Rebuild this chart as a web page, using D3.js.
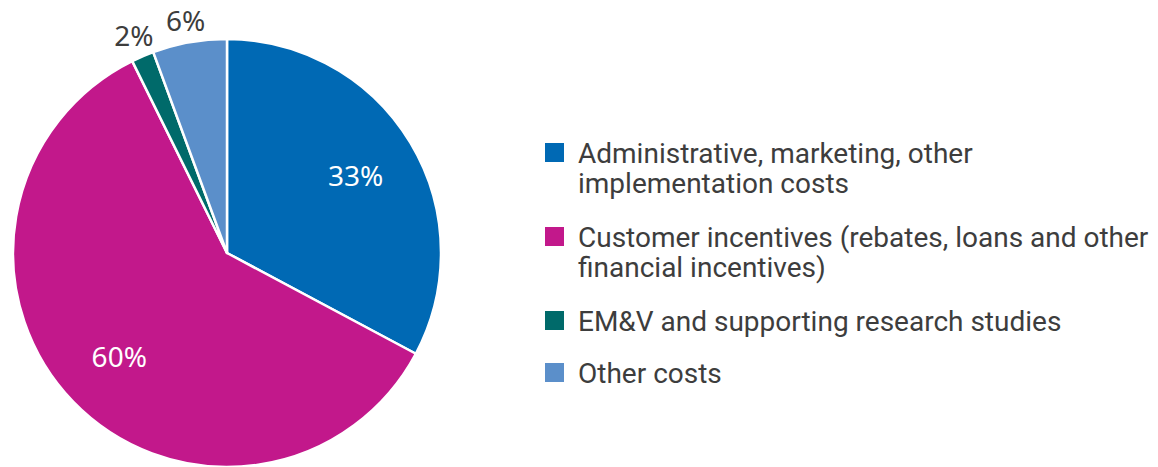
<!DOCTYPE html>
<html>
<head>
<meta charset="utf-8">
<script src="https://cdn.jsdelivr.net/npm/d3@7"></script>
<style>
  body { margin: 0; background: #fff; }
  svg { display: block; }
</style>
</head>
<body>
<div id="chart"></div>
<script>
// data
var categories = [
    "Administrative, marketing, other implementation costs",
    "Customer incentives (rebates, loans and other financial incentives)",
    "EM&V and supporting research studies",
    "Other costs"
];
var legendLines = [
    ["Administrative, marketing, other", "implementation costs"],
    ["Customer incentives (rebates, loans and other", "financial incentives)"],
    ["EM&V and supporting research studies"],
    ["Other costs"]
];
var shares = [32.8, 59.9, 1.7, 5.6];
var labels = ["33%", "60%", "2%", "6%"];
var colors = ["#0069b4", "#c2188b", "#006a6a", "#5b8fca"];

var width = 1158, height = 467;
var cx = 227, cy = 253, radius = 214;

var svg = d3.select("#chart").append("svg")
    .attr("width", width)
    .attr("height", height);

var data = categories.map(function(c, i) {
    return {name: c, value: shares[i], label: labels[i], color: colors[i]};
});

var pie = d3.pie().sort(null).value(function(d) { return d.value; });
var arcs = pie(data);

var arc = d3.arc().innerRadius(0).outerRadius(radius);
var inLabel = d3.arc().innerRadius(150).outerRadius(150);
var outLabel = d3.arc().innerRadius(236).outerRadius(236);

var g = svg.append("g").attr("transform", "translate(" + cx + "," + cy + ")");

g.selectAll("path.slice")
    .data(arcs)
    .enter().append("path")
    .attr("class", "slice")
    .attr("d", arc)
    .attr("fill", function(d) { return d.data.color; })
    .attr("stroke", "#fff")
    .attr("stroke-width", 2.5)
    .attr("stroke-linejoin", "round");

// small slices get their label outside
g.selectAll("text.pct")
    .data(arcs)
    .enter().append("text")
    .attr("class", "pct")
    .attr("transform", function(d) {
        var p = d.data.value > 10 ? inLabel.centroid(d) : outLabel.centroid(d);
        return "translate(" + p[0] + "," + p[1] + ")";
    })
    .attr("dy", "0.36em")
    .attr("text-anchor", "middle")
    .attr("font-family", "'Noto Sans', sans-serif")
    .attr("font-size", 28)
    .attr("fill", function(d) { return d.data.value > 10 ? "#fff" : "#3d3d3d"; })
    .text(function(d) { return d.data.label; });

// legend
var legendY = [143, 227, 311, 363];
var legend = svg.append("g").attr("transform", "translate(545,0)");

var item = legend.selectAll("g.item")
    .data(data)
    .enter().append("g")
    .attr("class", "item")
    .attr("transform", function(d, i) { return "translate(0," + legendY[i] + ")"; });

item.append("rect")
    .attr("width", 19)
    .attr("height", 19)
    .attr("fill", function(d) { return d.color; });

item.each(function(d, i) {
    var t = d3.select(this).append("text")
        .attr("x", 33)
        .attr("y", 20)
        .attr("font-family", "'Roboto', sans-serif")
        .attr("font-size", 28)
        .attr("fill", "#3d3d3d");
    legendLines[i].forEach(function(line, j) {
        t.append("tspan")
            .attr("x", 33)
            .attr("dy", j === 0 ? 0 : 30)
            .text(line);
    });
});
</script>
</body>
</html>
